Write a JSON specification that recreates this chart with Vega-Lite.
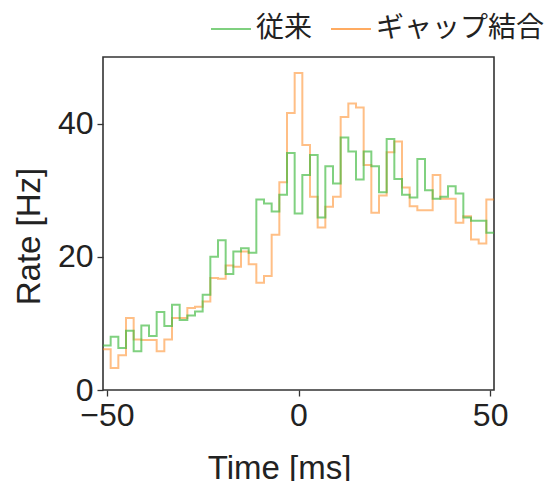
{
  "$schema": "https://vega.github.io/schema/vega-lite/v6.json",
  "width": 391,
  "height": 333,
  "autosize": {"type": "none"},
  "padding": {"left": 103, "top": 57, "right": 54, "bottom": 91},
  "background": "white",
  "config": {
    "view": {"stroke": "#333333", "strokeWidth": 1.6},
    "axis": {
      "grid": false,
      "domain": false,
      "labelFont": "Liberation Sans",
      "titleFont": "Liberation Sans",
      "labelFontSize": 32,
      "titleFontSize": 33,
      "titleFontWeight": "normal",
      "labelColor": "#222222",
      "titleColor": "#222222",
      "tickColor": "#333333",
      "tickSize": 6,
      "tickWidth": 1.3,
      "labelPadding": 4
    },
    "legend": {
      "labelFont": "Noto Sans CJK JP",
      "labelFontSize": 28,
      "labelColor": "#222222",
      "labelLimit": 400
    }
  },
  "datasets": {
    "conv": [
      {"t": -51, "rate": 6.7, "series": "従来"},
      {"t": -49, "rate": 8.0, "series": "従来"},
      {"t": -47, "rate": 6.3, "series": "従来"},
      {"t": -45, "rate": 8.9, "series": "従来"},
      {"t": -43, "rate": 5.8, "series": "従来"},
      {"t": -41, "rate": 9.7, "series": "従来"},
      {"t": -39, "rate": 8.1, "series": "従来"},
      {"t": -37, "rate": 11.7, "series": "従来"},
      {"t": -35, "rate": 9.6, "series": "従来"},
      {"t": -33, "rate": 12.8, "series": "従来"},
      {"t": -31, "rate": 10.5, "series": "従来"},
      {"t": -29, "rate": 11.2, "series": "従来"},
      {"t": -27, "rate": 11.8, "series": "従来"},
      {"t": -25, "rate": 14.3, "series": "従来"},
      {"t": -23, "rate": 20.0, "series": "従来"},
      {"t": -21, "rate": 22.5, "series": "従来"},
      {"t": -19, "rate": 17.4, "series": "従来"},
      {"t": -17, "rate": 20.8, "series": "従来"},
      {"t": -15, "rate": 21.3, "series": "従来"},
      {"t": -13, "rate": 20.6, "series": "従来"},
      {"t": -11, "rate": 28.6, "series": "従来"},
      {"t": -9, "rate": 28.0, "series": "従来"},
      {"t": -7, "rate": 26.8, "series": "従来"},
      {"t": -5, "rate": 29.3, "series": "従来"},
      {"t": -3, "rate": 35.6, "series": "従来"},
      {"t": -1, "rate": 26.5, "series": "従来"},
      {"t": 1, "rate": 32.3, "series": "従来"},
      {"t": 3, "rate": 35.3, "series": "従来"},
      {"t": 5, "rate": 25.9, "series": "従来"},
      {"t": 7, "rate": 33.6, "series": "従来"},
      {"t": 9, "rate": 31.0, "series": "従来"},
      {"t": 11, "rate": 37.9, "series": "従来"},
      {"t": 13, "rate": 35.8, "series": "従来"},
      {"t": 15, "rate": 31.6, "series": "従来"},
      {"t": 17, "rate": 35.8, "series": "従来"},
      {"t": 19, "rate": 33.6, "series": "従来"},
      {"t": 21, "rate": 29.7, "series": "従来"},
      {"t": 23, "rate": 37.7, "series": "従来"},
      {"t": 25, "rate": 31.7, "series": "従来"},
      {"t": 27, "rate": 29.3, "series": "従来"},
      {"t": 29, "rate": 28.9, "series": "従来"},
      {"t": 31, "rate": 34.7, "series": "従来"},
      {"t": 33, "rate": 30.0, "series": "従来"},
      {"t": 35, "rate": 28.7, "series": "従来"},
      {"t": 37, "rate": 29.0, "series": "従来"},
      {"t": 39, "rate": 30.6, "series": "従来"},
      {"t": 41, "rate": 29.5, "series": "従来"},
      {"t": 43, "rate": 25.9, "series": "従来"},
      {"t": 45, "rate": 25.4, "series": "従来"},
      {"t": 47, "rate": 25.4, "series": "従来"},
      {"t": 49, "rate": 23.6, "series": "従来"},
      {"t": 51, "rate": 23.6, "series": "従来"}
    ],
    "gap": [
      {"t": -51, "rate": 6.1, "series": "ギャップ結合"},
      {"t": -49, "rate": 3.3, "series": "ギャップ結合"},
      {"t": -47, "rate": 5.2, "series": "ギャップ結合"},
      {"t": -45, "rate": 10.8, "series": "ギャップ結合"},
      {"t": -43, "rate": 7.6, "series": "ギャップ結合"},
      {"t": -41, "rate": 7.5, "series": "ギャップ結合"},
      {"t": -39, "rate": 7.5, "series": "ギャップ結合"},
      {"t": -37, "rate": 5.8, "series": "ギャップ結合"},
      {"t": -35, "rate": 7.6, "series": "ギャップ結合"},
      {"t": -33, "rate": 10.8, "series": "ギャップ結合"},
      {"t": -31, "rate": 10.8, "series": "ギャップ結合"},
      {"t": -29, "rate": 12.3, "series": "ギャップ結合"},
      {"t": -27, "rate": 12.5, "series": "ギャップ結合"},
      {"t": -25, "rate": 13.3, "series": "ギャップ結合"},
      {"t": -23, "rate": 16.8, "series": "ギャップ結合"},
      {"t": -21, "rate": 16.7, "series": "ギャップ結合"},
      {"t": -19, "rate": 18.7, "series": "ギャップ結合"},
      {"t": -17, "rate": 18.5, "series": "ギャップ結合"},
      {"t": -15, "rate": 20.8, "series": "ギャップ結合"},
      {"t": -13, "rate": 18.9, "series": "ギャップ結合"},
      {"t": -11, "rate": 16.1, "series": "ギャップ結合"},
      {"t": -9, "rate": 17.1, "series": "ギャップ結合"},
      {"t": -7, "rate": 23.3, "series": "ギャップ結合"},
      {"t": -5, "rate": 31.2, "series": "ギャップ結合"},
      {"t": -3, "rate": 41.6, "series": "ギャップ結合"},
      {"t": -1, "rate": 47.6, "series": "ギャップ結合"},
      {"t": 1, "rate": 36.8, "series": "ギャップ結合"},
      {"t": 3, "rate": 29.0, "series": "ギャップ結合"},
      {"t": 5, "rate": 24.4, "series": "ギャップ結合"},
      {"t": 7, "rate": 27.5, "series": "ギャップ結合"},
      {"t": 9, "rate": 29.0, "series": "ギャップ結合"},
      {"t": 11, "rate": 41.0, "series": "ギャップ結合"},
      {"t": 13, "rate": 43.0, "series": "ギャップ結合"},
      {"t": 15, "rate": 42.4, "series": "ギャップ結合"},
      {"t": 17, "rate": 33.8, "series": "ギャップ結合"},
      {"t": 19, "rate": 26.6, "series": "ギャップ結合"},
      {"t": 21, "rate": 29.2, "series": "ギャップ結合"},
      {"t": 23, "rate": 35.7, "series": "ギャップ結合"},
      {"t": 25, "rate": 37.3, "series": "ギャップ結合"},
      {"t": 27, "rate": 30.4, "series": "ギャップ結合"},
      {"t": 29, "rate": 27.6, "series": "ギャップ結合"},
      {"t": 31, "rate": 27.0, "series": "ギャップ結合"},
      {"t": 33, "rate": 27.0, "series": "ギャップ結合"},
      {"t": 35, "rate": 32.3, "series": "ギャップ結合"},
      {"t": 37, "rate": 28.7, "series": "ギャップ結合"},
      {"t": 39, "rate": 28.7, "series": "ギャップ結合"},
      {"t": 41, "rate": 25.1, "series": "ギャップ結合"},
      {"t": 43, "rate": 26.1, "series": "ギャップ結合"},
      {"t": 45, "rate": 22.6, "series": "ギャップ結合"},
      {"t": 47, "rate": 22.0, "series": "ギャップ結合"},
      {"t": 49, "rate": 28.6, "series": "ギャップ結合"},
      {"t": 51, "rate": 28.6, "series": "ギャップ結合"}
    ]
  },
  "encoding": {
    "x": {
      "field": "t",
      "type": "quantitative",
      "scale": {"domain": [-51, 51], "nice": false, "zero": false},
      "axis": {"values": [-50, 0, 50], "title": "Time [ms]", "titleX": 176, "titleY": 88, "titleBaseline": "alphabetic", "titleAlign": "center"}
    },
    "y": {
      "field": "rate",
      "type": "quantitative",
      "scale": {"domain": [0, 50], "nice": false},
      "axis": {"values": [0, 20, 40], "title": "Rate [Hz]", "titleX": -64, "titleY": 179, "titleBaseline": "alphabetic", "titleAlign": "center"}
    },
    "color": {
      "field": "series",
      "type": "nominal",
      "scale": {"domain": ["従来", "ギャップ結合"], "range": ["#3cb83c", "#ff7f0e"]},
      "legend": {
        "orient": "none",
        "legendX": 107,
        "legendY": -49,
        "direction": "horizontal",
        "title": null,
        "symbolType": "stroke",
        "symbolSize": 1600,
        "symbolStrokeWidth": 2,
        "symbolOpacity": 0.65,
        "labelOffset": 4,
        "columnPadding": 14,
        "padding": 0
      }
    }
  },
  "layer": [
    {
      "data": {"name": "gap"},
      "mark": {"type": "line", "interpolate": "step-after", "strokeWidth": 2, "opacity": 0.5}
    },
    {
      "data": {"name": "conv"},
      "mark": {"type": "line", "interpolate": "step-after", "strokeWidth": 2, "opacity": 0.65}
    }
  ]
}
